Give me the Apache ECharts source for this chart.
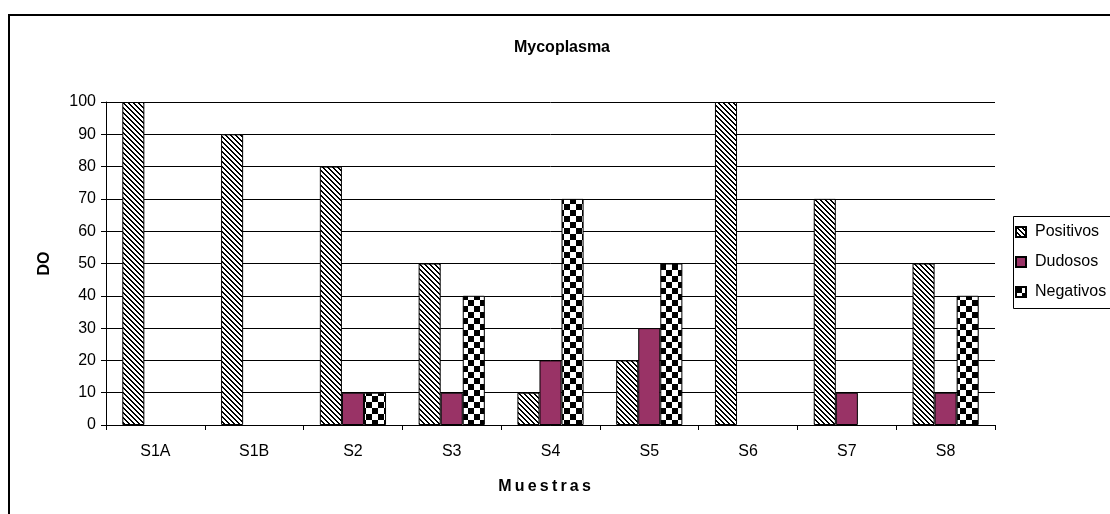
<!DOCTYPE html>
<html>
<head>
<meta charset="utf-8">
<script src="https://cdn.jsdelivr.net/npm/echarts@6/dist/echarts.min.js"></script>
<style>
  html, body { margin: 0; padding: 0; background: #fff; }
  #chart { width: 1110px; height: 514px; }
</style>
</head>
<body>
<div id="chart"></div>
<script>
// datos
var categorias = ["S1A", "S1B", "S2", "S3", "S4", "S5", "S6", "S7", "S8"];
var positivos = [100, 90, 80, 50, 10, 20, 100, 70, 50];
var dudosos = [null, null, 10, 10, 20, 30, null, 10, 10];
var negativos = [null, null, 10, 40, 70, 50, null, null, 40];

// patron de rayas diagonales
function rayas(n) {
  var c = document.createElement("canvas");
  c.width = n; c.height = n;
  var ctx = c.getContext("2d");
  ctx.fillStyle = "#fff";
  ctx.fillRect(0, 0, n, n);
  ctx.fillStyle = "#000";
  for (var y = 0; y < n; y++) {
    for (var x = 0; x < n; x++) {
      var d = ((x - y) % n + n) % n;
      if (d < 2) ctx.fillRect(x, y, 1, 1);
    }
  }
  return c;
}

// patron de tablero de ajedrez
function tablero(s) {
  var c = document.createElement("canvas");
  c.width = s * 2; c.height = s * 2;
  var ctx = c.getContext("2d");
  ctx.fillStyle = "#fff";
  ctx.fillRect(0, 0, s * 2, s * 2);
  ctx.fillStyle = "#000";
  ctx.fillRect(0, 0, s, s);
  ctx.fillRect(s, s, s, s);
  return c;
}

var fuente = "Liberation Sans, Arial, sans-serif";
var myChart = echarts.init(document.getElementById("chart"), null, { renderer: "canvas" });

var option = {
  animation: false,
  backgroundColor: "#fff",
  textStyle: { fontFamily: fuente },
  title: {
    text: "Mycoplasma",
    left: 557,
    top: 35,
    textAlign: "center",
    textStyle: { fontFamily: fuente, fontSize: 16, fontWeight: "bold", color: "#000" }
  },
  graphic: [
    {
      type: "rect",
      shape: { x: 9, y: 15, width: 1200, height: 600 },
      style: { fill: null, stroke: "#000", lineWidth: 2 },
      z: 0
    },
    {
      type: "rect",
      shape: { x: 1013.5, y: 216.5, width: 200, height: 92 },
      style: { fill: "#fff", stroke: "#000", lineWidth: 1 },
      z: 1
    }
  ],
  legend: {
    orient: "vertical",
    left: 1015,
    top: 224,
    padding: 0,
    itemWidth: 10,
    itemHeight: 10,
    itemGap: 14,
    icon: "rect",
    z: 5,
    textStyle: { fontFamily: fuente, fontSize: 16, color: "#000", padding: [0, 0, 0, 4] },
    data: ["Positivos", "Dudosos", "Negativos"]
  },
  grid: { left: 106, right: 115, top: 102, bottom: 89 },
  xAxis: {
    type: "category",
    data: categorias,
    name: "M\u2009u\u2009e\u2009s\u2009t\u2009r\u2009a\u2009s",
    nameLocation: "middle",
    nameGap: 54,
    nameMoveOverlap: false,
    nameTextStyle: { fontFamily: fuente, fontSize: 16, fontWeight: "bold", color: "#000", padding: [0, 12, 0, 0] },
    axisLine: { lineStyle: { color: "#000", width: 1 } },
    axisTick: { show: true, alignWithLabel: false, length: 5, lineStyle: { color: "#000" } },
    axisLabel: { fontFamily: fuente, fontSize: 16, color: "#000", margin: 19 }
  },
  yAxis: {
    type: "value",
    min: 0,
    max: 100,
    interval: 10,
    name: "DO",
    nameLocation: "middle",
    nameGap: 53,
    nameMoveOverlap: false,
    nameTextStyle: { fontFamily: fuente, fontSize: 16, fontWeight: "bold", color: "#000" },
    axisLine: { show: true, lineStyle: { color: "#000", width: 1 } },
    axisTick: { show: true, length: 5, lineStyle: { color: "#000" } },
    axisLabel: { fontFamily: fuente, fontSize: 16, color: "#000", margin: 10 },
    splitLine: { show: true, lineStyle: { color: "#000", width: 1 } }
  },
  series: [
    {
      name: "Positivos",
      type: "bar",
      data: positivos,
      barGap: "0%",
      barCategoryGap: "33%",
      itemStyle: { color: { image: rayas(5), repeat: "repeat" }, borderColor: "#000", borderWidth: 1 }
    },
    {
      name: "Dudosos",
      type: "bar",
      data: dudosos,
      itemStyle: { color: "#993366", borderColor: "#000", borderWidth: 1 }
    },
    {
      name: "Negativos",
      type: "bar",
      data: negativos,
      itemStyle: { color: { image: tablero(6), repeat: "repeat" }, borderColor: "#000", borderWidth: 1 }
    }
  ]
};

myChart.setOption(option);
window.addEventListener("resize", myChart.resize);
</script>
</body>
</html>
